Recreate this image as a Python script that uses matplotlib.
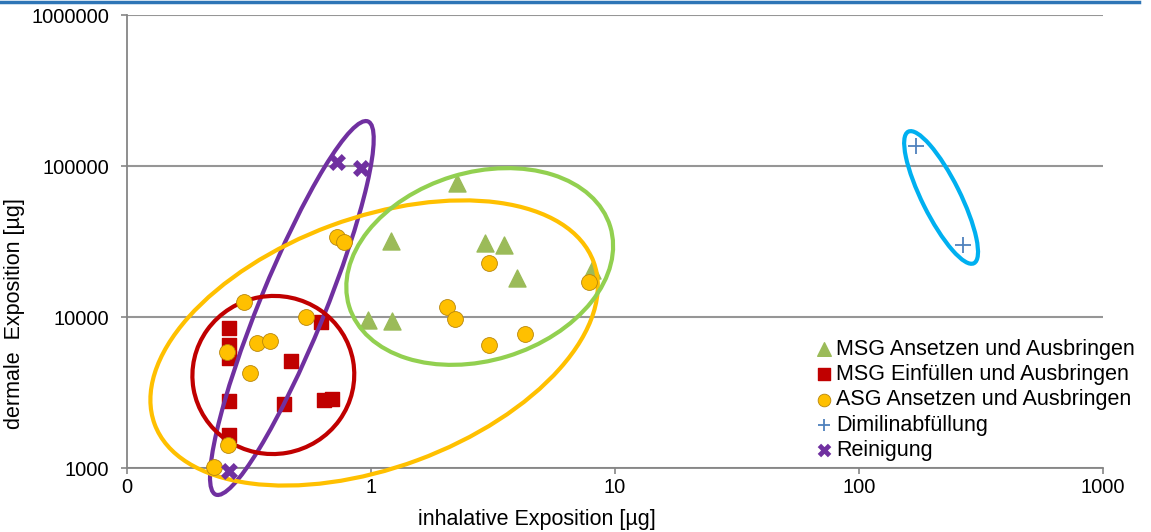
import matplotlib
matplotlib.use("Agg")
import matplotlib.pyplot as plt
from matplotlib.patches import Ellipse
from matplotlib.lines import Line2D
from matplotlib.transforms import IdentityTransform

plt.rcParams['font.family'] = ['Liberation Sans', 'DejaVu Sans']

# MSG Ansetzen und Ausbringen
msg_ans_x = [2.25, 1.21, 2.93, 3.51, 3.97, 8.05, 0.97, 1.22]
msg_ans_y = [77100, 31900, 30900, 30000, 18100, 20500, 9550, 9410]

# MSG Einfuellen und Ausbringen
msg_ein_x = [0.262, 0.262, 0.262, 0.624, 0.47, 0.262, 0.44, 0.642, 0.69, 0.262]
msg_ein_y = [8450, 6530, 5350, 9270, 5110, 2780, 2650, 2820, 2860, 1650]

# ASG Ansetzen und Ausbringen
asg_x = [0.302, 0.540, 0.340, 0.385, 0.258, 0.319, 0.259, 0.227,
         0.727, 0.775, 3.05, 2.05, 2.22, 3.05, 4.29, 7.85]
asg_y = [12600, 9960, 6700, 6940, 5890, 4280, 1430, 1010,
         34000, 31400, 22700, 11700, 9700, 6560, 7720, 17100]

# Dimilinabfuellung
dim_x = [171, 267]
dim_y = [135700, 30000]

# Reinigung
rein_x = [0.723, 0.907, 0.262]
rein_y = [106700, 96600, 950]

x_ticks = [0.1, 1, 10, 100, 1000]
x_ticklabels = ["0", "1", "10", "100", "1000"]
y_ticks = [1000, 10000, 100000, 1000000]
y_ticklabels = ["1000", "10000", "100000", "1000000"]

# hand drawn ellipses: center (data), width/height in px, angle, colour
ellipses = [
    ((0.474, 11470), 403, 65, 67.8, "#7030A0"),
    ((0.398, 4130), 162, 158, 10, "#C00000"),
    ((1.03, 6730), 468, 250, 20.3, "#FFC000"),
    ((2.79, 21600), 273, 188, 17, "#92D050"),
    ((217, 61900), 147, 38, -63.5, "#00B0F0"),
]

fig = plt.figure(figsize=(11.51, 5.32), dpi=100)
ax = fig.add_axes([0.1103, 0.1203, 0.848, 0.8515])
ax.set_xscale("log")
ax.set_yscale("log")
ax.set_xlim(0.1, 1000)
ax.set_ylim(1000, 1000000)

ax.scatter(msg_ans_x, msg_ans_y, marker="^", s=150, color="#9BBB59",
           zorder=3, clip_on=False, label="MSG Ansetzen und Ausbringen")
ax.scatter(msg_ein_x, msg_ein_y, marker="s", s=115, color="#C00000",
           zorder=3, clip_on=False, label="MSG Einfüllen und Ausbringen")
ax.scatter(asg_x, asg_y, marker="o", s=130, color="#FFC000",
           edgecolors="#B8860B", linewidths=0.6, zorder=5, clip_on=False,
           label="ASG Ansetzen und Ausbringen")
ax.scatter(dim_x, dim_y, marker="+", s=130, color="#4F81BD", linewidths=1.3,
           zorder=5, clip_on=False, label="Dimilinabfüllung")
ax.scatter(rein_x, rein_y, marker="X", s=150, color="#7030A0", linewidths=0,
           zorder=6, clip_on=False, label="Reinigung")

ax.set_xticks(x_ticks)
ax.set_xticklabels(x_ticklabels)
ax.set_yticks(y_ticks)
ax.set_yticklabels(y_ticklabels)
ax.minorticks_off()
ax.tick_params(axis="both", colors="#868686", labelcolor="black",
               labelsize=14.5, length=4, width=1.2)
ax.tick_params(axis="y", pad=9)
ax.tick_params(axis="x", pad=3)

for s in ["top", "right"]:
    ax.spines[s].set_visible(False)
for s in ["left", "bottom"]:
    ax.spines[s].set_color("#868686")
    ax.spines[s].set_linewidth(1.3)
ax.grid(axis="y", color="#969696", linewidth=1.5)
ax.set_axisbelow(True)

ax.set_xlabel("inhalative Exposition [µg]", fontsize=15.5)
ax.xaxis.set_label_coords(0.42, -0.09)
ax.set_ylabel("dermale  Exposition [µg]", fontsize=15.5)
ax.yaxis.set_label_coords(-0.104, 0.34)

for (cx, cy), w, h, ang, col in ellipses:
    px, py = ax.transData.transform((cx, cy))
    e = Ellipse((px, py), w, h, angle=ang, transform=IdentityTransform(),
                fill=False, edgecolor=col, linewidth=3, zorder=4, clip_on=False)
    ax.add_artist(e)

ax.legend(loc="upper left", bbox_to_anchor=(808 / 1151, 1 - 330 / 532),
          bbox_transform=fig.transFigure, frameon=False, fontsize=15.5,
          handlelength=0.7, handletextpad=0.2, labelspacing=0.2,
          borderaxespad=0, scatterpoints=1, markerscale=0.8)

fig.add_artist(Line2D([0, 0.99], [0.997, 0.997], transform=fig.transFigure,
                      color="#2E75B6", linewidth=2.5))

fig.savefig("out.png", dpi=100)
